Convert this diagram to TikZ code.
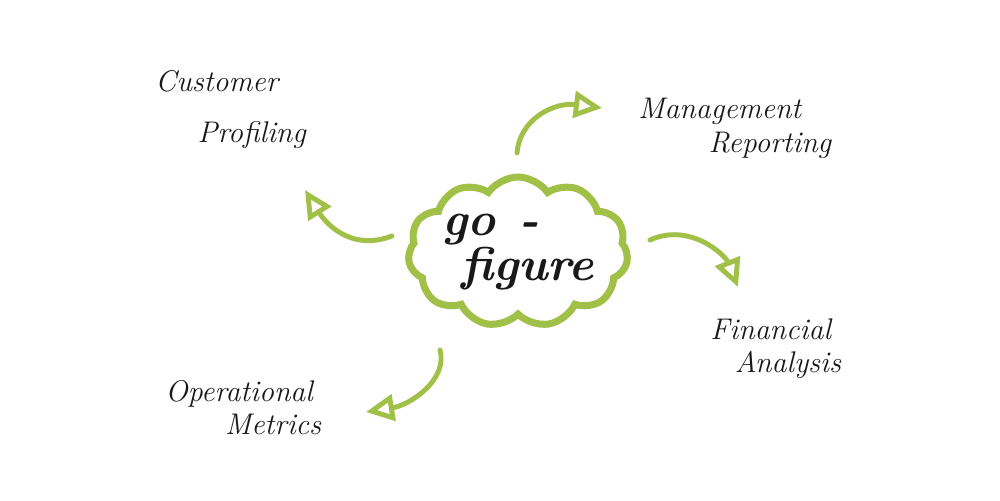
\documentclass[tikz,border=0pt]{standalone}
\usepackage{tikz}
\usetikzlibrary{arrows.meta, shapes.symbols}
\definecolor{gfgreen}{RGB}{160,192,72}
\definecolor{inkblack}{RGB}{25,25,25}

\begin{document}
\begin{tikzpicture}[
    x=0.02cm, y=-0.02cm,
    idea/.style={cloud, cloud puffs=11, cloud puff arc=110, aspect=1.45,
      draw=gfgreen, line width=4pt, fill=white, inner sep=-6pt,
      minimum width=4.4cm, minimum height=3.0cm, align=left,
      font=\fontsize{27}{28}\selectfont\bfseries\itshape, text=inkblack},
    label/.style={align=left, anchor=north west, inner sep=0pt,
      font=\fontsize{17}{19}\selectfont\itshape, text=inkblack},
    arrow/.style={-{Triangle[open, length=16pt, width=15pt]}, line width=2.8pt,
      draw=gfgreen, line cap=round}
  ]
  \fill[white] (0,0) rectangle (1000,500);
  \useasboundingbox (0,0) rectangle (1000,500);

  % centre and the four topics
  \node[idea] (cloud) at (518,252) {go\enspace-\\[-2pt]\hspace{0.4em}figure};
  \node[label] (cust) at (155,70) {Customer\\[10pt]\hspace*{24pt}Profiling};
  \node[label] (mgmt) at (638,98) {Management\\\hspace*{40pt}Reporting};
  \node[label] (fin) at (710,318) {Financial\\\hspace*{14pt}Analysis};
  \node[label] (ops) at (165,380) {Operational\\\hspace*{34pt}Metrics};

  % arrow ends
  \coordinate (cust-from) at (392,236);
  \coordinate (cust-to) at (305,190);
  \coordinate (mgmt-from) at (517,153);
  \coordinate (mgmt-to) at (602,108);
  \coordinate (fin-from) at (650,240);
  \coordinate (fin-to) at (738,287);
  \coordinate (ops-from) at (440,350);
  \coordinate (ops-to) at (366,412);

  \draw[arrow] (cust-from) .. controls (350,252) and (325,222) .. (cust-to);
  \draw[arrow] (mgmt-from) .. controls (520,118) and (555,102) .. (mgmt-to);
  \draw[arrow] (fin-from) .. controls (690,222) and (725,255) .. (fin-to);
  \draw[arrow] (ops-from) .. controls (448,380) and (410,405) .. (ops-to);
\end{tikzpicture}
\end{document}
